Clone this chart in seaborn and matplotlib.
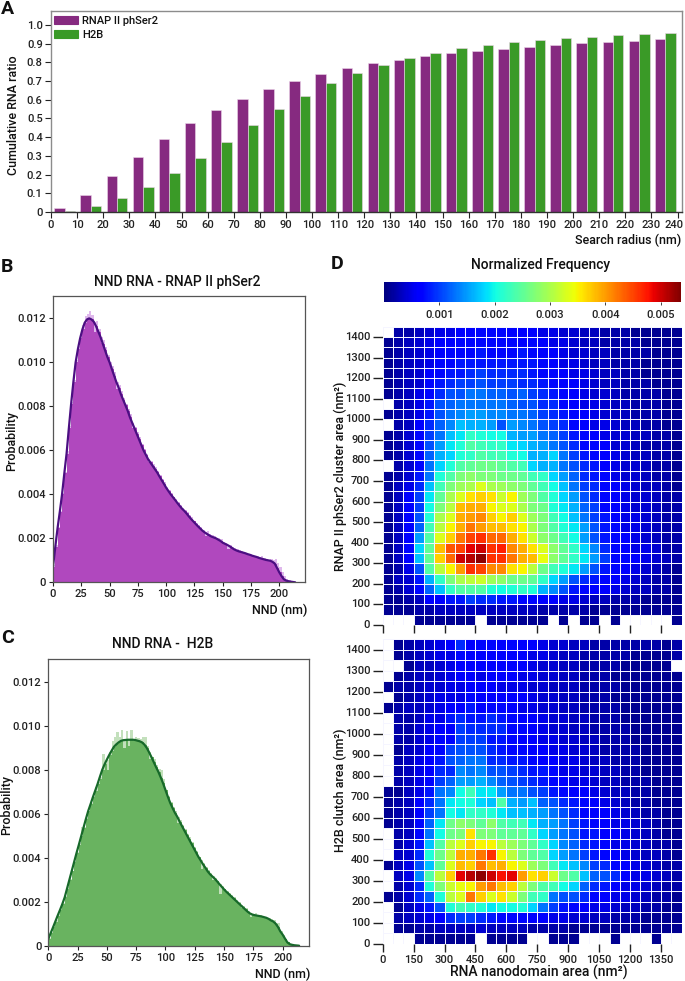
import numpy as np
import pandas as pd
import seaborn as sns
from matplotlib import pyplot as plt
from matplotlib.patches import Patch
from matplotlib.transforms import ScaledTranslation

W, H = 685, 981
nan = np.nan

radius_mid = [r + 0.3 for r in range(5, 240, 10)]
rnap_ratio = [.02, .09, .19, .295, .39, .475, .545, .605, .66, .70, .74, .77, .795, .815, .835, .85, .86, .87,
              .882, .892, .903, .908, .915, .922]
h2b_ratio = [.008, .033, .077, .135, .207, .29, .375, .463, .548, .622, .688, .742, .788, .823, .852, .875, .892,
             .908, .92, .93, .938, .944, .95, .955]

# NND distributions, 2 nm steps from 0 nm, in units of 1e-3
nnd_nm = list(range(0, 216, 2))
rnap_curve = [.7, 1.6, 2.45, 3.2, 4.0, 4.95, 5.85, 7.0, 8.1, 9.1, 10.0, 10.6, 11.1, 11.5, 11.8, 11.95, 12.0, 11.95,
              11.85, 11.65, 11.4, 11.15, 10.85, 10.55, 10.25, 10.0, 9.7, 9.4, 9.1, 8.85, 8.55, 8.3, 8.05, 7.8, 7.5,
              7.25, 7.0, 6.75, 6.5, 6.25, 6.0, 5.8, 5.6, 5.45, 5.3, 5.15, 5.0, 4.82, 4.65, 4.48, 4.3, 4.15, 4.0, 3.87,
              3.74, 3.6, 3.47, 3.35, 3.25, 3.13, 3.0, 2.88, 2.77, 2.66, 2.55, 2.45, 2.35, 2.27, 2.2, 2.14, 2.08, 2.04,
              2.0, 1.94, 1.88, 1.8, 1.75, 1.7, 1.64, 1.57, 1.5, 1.45, 1.41, 1.38, 1.35, 1.32, 1.28, 1.25, 1.21, 1.18,
              1.15, 1.11, 1.08, 1.05, 1.02, 1.0, .98, .93, .85, .65, .45, .28, .14, .08, .05, .03, .015, 0]
rnap_hist = [.8, 1.7, 2.5, 3.25, 4.05, 5.0, 5.95, 7.1, 8.2, 9.2, 10.1, 10.75, 11.3, 11.7, 12.1, 12.2, 12.35, 12.15,
             11.4, 11.9, 11.5, 10.9, 11.0, 10.7, 10.35, 9.8, 9.85, 9.55, 8.8, 8.95, 8.7, 8.4, 8.1, 7.9, 7.65, 7.0,
             7.05, 6.85, 6.6, 6.3, 6.05, 5.85, 5.45, 5.5, 5.4, 5.25, 5.05, 4.9, 4.7, 4.55, 4.35, 4.2, 4.05, 3.9, 3.8,
             3.65, 3.5, 3.4, 3.3, 3.2, 3.05, 2.95, 2.8, 2.7, 2.6, 2.5, 2.4, 2.1, 2.35, 2.2, 2.15, 2.1, 2.02, 2.0,
             1.95, 1.85, 1.8, 1.5, 1.7, 1.6, 1.55, 1.5, 1.45, 1.42, 1.38, 1.35, 1.3, 1.3, 1.22, 1.2, 1.18, 1.15, 1.18,
             1.1, 1.05, 1.02, 1.05, 1.0, 1.08, .9, .7, .48, .3, .15, .09, .05, .03, 0]
h2b_curve = [.3, .57, .83, 1.1, 1.37, 1.63, 1.9, 2.2, 2.6, 3.0, 3.4, 3.8, 4.2, 4.58, 4.97, 5.36, 5.75, 6.12, 6.43, 6.75,
             7.05, 7.35, 7.68, 8.0, 8.25, 8.47, 8.68, 8.87, 9.05, 9.16, 9.25, 9.32, 9.35, 9.36, 9.37, 9.37, 9.37, 9.36,
             9.33, 9.3, 9.25, 9.15, 9.0, 8.8, 8.58, 8.35, 8.12, 7.9, 7.65, 7.38, 7.08, 6.78, 6.5, 6.27, 6.05, 5.87, 5.65,
             5.45, 5.25, 5.05, 4.85, 4.65, 4.45, 4.25, 4.05, 3.88, 3.7, 3.55, 3.38, 3.25, 3.15, 3.05, 2.93, 2.8, 2.68,
             2.56, 2.45, 2.35, 2.25, 2.15, 2.05, 1.95, 1.85, 1.75, 1.65, 1.55, 1.47, 1.42, 1.39, 1.37, 1.35, 1.33,
             1.3, 1.27, 1.22, 1.15, 1.1, 1.0, .85, .65, .5, .32, .15, .07, .04, .02, .01, 0]
h2b_hist = [.35, .62, .88, 1.15, 1.42, 1.68, 1.95, 2.25, 2.65, 3.05, 3.4, 3.85, 4.25, 4.65, 5.4, 5.4, 5.8, 6.15, 6.5, 6.8,
            7.2, 7.45, 7.6, 8.7, 8.3, 8.0, 8.8, 9.3, 9.5, 9.7, 9.5, 9.8, 9.0, 9.75, 9.1, 9.8, 9.3, 9.5, 9.45, 9.4, 9.5,
            9.5, 9.1, 8.5, 8.6, 8.5, 8.2, 8.05, 8.0, 7.6, 7.1, 6.8, 6.55, 6.3, 6.15, 5.6, 5.7, 5.5, 5.3, 5.1, 4.95,
            4.7, 4.5, 4.3, 4.05, 3.5, 3.75, 3.6, 3.45, 3.3, 3.0, 3.1, 2.95, 2.35, 2.7, 2.6, 2.5, 2.4, 2.3, 2.2, 2.1,
            2.0, 1.7, 1.8, 1.7, 1.6, 1.3, 1.45, 1.5, 1.4, 1.38, 1.3, 1.32, 1.25, 1.25, 1.2, 1.15, 1.05, 1.05, .6, .45,
            .3, .15, .08, .05, .03, .01, 0]

# Heatmap cells in units of 1e-4, bottom row first (50 nm^2 cells)
rnap_rows = [
    [nan, nan, nan, 1, 1, 1, 1, 1, 1, nan, 1, 1, 1, 1, 1, 1, nan, 1, nan, 1, 1, nan, 1, nan, nan, nan, nan, nan, 1],
    [1, 1, 1, 2, 2, 3, 3, 3, 3, 3, 3, 3, 3, 3, 3, 2, 2, 2, 2, 2, 1, 1, 1, 1, 1, 1, 1, 1, 1],
    [1, 1, 2, 3, 6, 6, 8, 8, 10, 9, 9, 8, 8, 7, 7, 6, 6, 5, 5, 4, 3, 3, 2, 2, 2, 1, 1, 1, 1],
    [1, 2, 4, 7, 12, 17, 22, 24, 24, 24, 21, 20, 21, 22, 21, 16, 14, 11, 8, 7, 6, 6, 5, 4, 3, 3, 2, 2, 1],
    [1, 3, 4, 8, 16, 22, 27, 30, 31, 32, 29, 28, 26, 26, 25, 22, 18, 15, 11, 9, 8, 7, 6, 5, 4, 3, 2, 2, 1],
    [1, 2, 5, 11, 24, 31, 35, 40, 46, 45, 41, 41, 36, 35, 31, 26, 23, 21, 19, 15, 11, 8, 7, 6, 5, 4, 3, 2, 1],
    [1, 3, 6, 17, 25, 37, 43, 50, 51, 53, 46, 46, 42, 39, 38, 34, 28, 25, 22, 19, 15, 10, 7, 7, 6, 5, 4, 3, 2],
    [1, 3, 7, 18, 25, 38, 44, 45, 49, 50, 46, 47, 41, 39, 36, 33, 28, 25, 22, 18, 14, 9, 7, 6, 5, 5, 4, 2, 2],
    [1, 3, 6, 15, 24, 33, 37, 42, 45, 46, 43, 43, 39, 36, 32, 28, 26, 23, 20, 15, 11, 8, 7, 6, 5, 4, 3, 2, 2],
    [1, 3, 6, 12, 23, 31, 35, 39, 42, 40, 38, 38, 36, 35, 30, 27, 24, 21, 19, 15, 11, 8, 7, 5, 5, 4, 3, 2, 2],
    [1, 3, 6, 11, 21, 30, 33, 39, 40, 41, 37, 35, 37, 33, 29, 27, 23, 20, 17, 13, 10, 8, 6, 5, 5, 4, 3, 2, 2],
    [1, 3, 6, 10, 20, 27, 31, 38, 39, 39, 35, 33, 33, 30, 27, 26, 21, 19, 16, 12, 10, 7, 6, 5, 4, 4, 3, 2, 2],
    [1, 3, 6, 10, 19, 25, 30, 33, 36, 37, 36, 32, 35, 29, 27, 24, 21, 18, 15, 11, 9, 7, 6, 5, 4, 4, 3, 2, 2],
    [1, 3, 5, 9, 17, 23, 27, 29, 30, 33, 30, 29, 28, 27, 25, 23, 20, 17, 13, 10, 9, 7, 6, 5, 4, 3, 3, 2, 1],
    [1, 2, 4, 8, 13, 21, 24, 27, 28, 27, 27, 26, 26, 25, 23, 22, 18, 15, 12, 9, 8, 7, 5, 4, 4, 3, 2, 2, 1],
    [nan, 2, 4, 7, 13, 18, 21, 24, 25, 26, 26, 25, 24, 23, 18, 16, 16, 13, 11, 9, 8, 6, 5, 4, 4, 3, 2, 2, 1],
    [1, 2, 4, 7, 12, 16, 18, 21, 22, 24, 23, 23, 21, 20, 16, 16, 18, 13, 10, 8, 7, 6, 5, 4, 3, 3, 2, 2, 1],
    [1, 2, 4, 7, 11, 15, 19, 21, 24, 23, 22, 22, 19, 18, 16, 15, 13, 11, 9, 7, 7, 6, 4, 4, 3, 2, 2, 2, 1],
    [1, 2, 4, 7, 10, 13, 17, 19, 22, 21, 20, 20, 16, 15, 15, 13, 12, 10, 8, 7, 6, 5, 4, 4, 3, 3, 2, 2, 1],
    [nan, 2, 3, 6, 9, 12, 14, 17, 16, 16, 15, 11, 15, 14, 13, 11, 10, 9, 7, 6, 5, 5, 4, 3, 3, 2, 2, 1, 1],
    [1, 2, 3, 5, 8, 11, 13, 14, 15, 15, 14, 14, 13, 13, 12, 10, 9, 8, 7, 6, 5, 4, 3, 3, 2, 2, 2, 1, 1],
    [nan, 2, 3, 5, 8, 11, 12, 13, 13, 13, 13, 13, 12, 11, 11, 9, 9, 7, 6, 5, 5, 4, 3, 3, 2, 2, 2, 1, 1],
    [1, 2, 3, 5, 7, 9, 11, 11, 13, 13, 12, 12, 11, 12, 10, 9, 8, 7, 6, 5, 4, 4, 3, 2, 2, 2, 2, 1, 1],
    [1, 2, 3, 4, 7, 8, 9, 10, 10, 11, 10, 10, 10, 9, 9, 8, 7, 6, 6, 5, 4, 3, 3, 2, 2, 2, 1, 1, 1],
    [1, 2, 3, 4, 6, 7, 8, 8, 9, 10, 9, 9, 9, 9, 8, 7, 7, 6, 5, 5, 4, 3, 3, 2, 2, 1, 1, 1, 1],
    [1, 2, 3, 4, 5, 7, 7, 8, 8, 8, 8, 8, 8, 8, 8, 7, 6, 5, 5, 4, 3, 3, 2, 2, 2, 1, 1, 1, 1],
    [1, 2, 3, 4, 5, 6, 7, 7, 7, 8, 7, 7, 7, 8, 7, 6, 6, 5, 4, 4, 3, 3, 2, 2, 2, 2, 1, 1, 1],
    [1, 2, 3, 4, 5, 6, 6, 7, 7, 7, 7, 7, 7, 6, 7, 6, 5, 5, 4, 3, 3, 2, 2, 2, 2, 1, 1, 1, 1],
    [nan, 2, 2, 3, 4, 5, 5, 6, 6, 7, 7, 7, 6, 6, 6, 5, 5, 4, 4, 3, 3, 2, 2, 2, 1, 1, 1, 1, 1],
]
h2b_rows = [
    [nan, nan, nan, 1, 1, 1, 1, 1, 1, nan, 1, 1, 1, 1, nan, nan, 1, 1, 1, nan, nan, nan, 1, nan, nan, nan, 1, nan, nan],
    [nan, 1, 1, 2, 2, 3, 3, 3, 3, 4, 3, 3, 3, 3, 2, 2, 2, 2, 1, 1, 1, 1, 1, 1, 1, 1, 1, 1, 1],
    [nan, 2, 3, 4, 5, 6, 9, 10, 10, 9, 8, 7, 7, 7, 6, 6, 5, 5, 4, 4, 3, 3, 2, 2, 2, 1, 1, 1, 1],
    [nan, 1, 3, 5, 8, 11, 21, 23, 22, 21, 19, 20, 20, 21, 18, 13, 10, 8, 7, 6, 5, 5, 4, 3, 3, 2, 2, 1, 1],
    [1, 2, 4, 9, 12, 21, 31, 33, 42, 37, 33, 36, 32, 27, 23, 22, 13, 11, 11, 9, 7, 6, 5, 5, 4, 3, 2, 2, 1],
    [nan, 2, 4, 9, 21, 27, 32, 34, 35, 40, 42, 38, 37, 31, 27, 24, 23, 20, 18, 12, 9, 8, 6, 5, 5, 4, 3, 2, 2],
    [nan, 3, 5, 14, 24, 31, 37, 49, 51, 53, 50, 48, 49, 40, 36, 37, 32, 26, 24, 17, 12, 11, 9, 6, 5, 5, 4, 3, 2],
    [1, 3, 5, 11, 17, 25, 33, 38, 37, 42, 38, 39, 35, 33, 29, 27, 23, 19, 17, 14, 10, 9, 7, 6, 5, 4, 3, 2, 2],
    [nan, 3, 4, 9, 21, 26, 31, 39, 39, 42, 46, 35, 31, 27, 25, 24, 18, 15, 13, 10, 8, 7, 6, 5, 4, 3, 3, 2, 1],
    [nan, 2, 4, 8, 17, 24, 31, 33, 37, 35, 35, 31, 29, 27, 25, 22, 18, 14, 12, 9, 8, 7, 5, 5, 4, 3, 2, 2, 1],
    [nan, 2, 3, 7, 13, 20, 26, 27, 36, 27, 27, 25, 25, 25, 22, 18, 15, 13, 11, 8, 8, 6, 6, 5, 4, 3, 2, 1, 1],
    [1, 2, 3, 7, 12, 19, 26, 28, 27, 25, 28, 24, 23, 23, 19, 16, 15, 13, 10, 8, 7, 6, 5, 5, 4, 3, 2, 1, 1],
    [1, 2, 3, 6, 10, 13, 20, 19, 22, 22, 21, 19, 17, 17, 16, 15, 13, 11, 9, 7, 6, 6, 5, 4, 3, 2, 2, 1, 1],
    [1, 2, 3, 6, 9, 13, 19, 20, 21, 18, 17, 24, 16, 15, 17, 12, 11, 9, 8, 7, 6, 5, 4, 3, 2, 2, 1, 1, 1],
    [1, 1, 3, 5, 8, 13, 14, 20, 23, 19, 19, 15, 13, 13, 11, 10, 8, 7, 6, 6, 5, 4, 3, 3, 2, 2, 1, 1, 1],
    [nan, 2, 3, 5, 7, 10, 12, 15, 15, 16, 14, 12, 11, 10, 9, 8, 7, 6, 5, 5, 4, 3, 3, 2, 2, 2, 1, 1, 1],
    [nan, 2, 3, 5, 6, 9, 9, 14, 13, 14, 11, 11, 10, 9, 8, 8, 7, 5, 5, 4, 4, 3, 3, 2, 2, 1, 1, 1, 1],
    [nan, 2, 3, 5, 6, 8, 11, 12, 13, 13, 9, 9, 8, 8, 7, 6, 6, 5, 5, 4, 3, 3, 2, 2, 2, 1, 1, 1, 1],
    [nan, 1, 3, 4, 6, 7, 10, 11, 11, 11, 9, 8, 7, 7, 6, 6, 5, 5, 4, 4, 3, 2, 2, 2, 2, 1, 1, 1, 1],
    [nan, 2, 2, 4, 5, 7, 7, 10, 10, 10, 8, 8, 7, 6, 6, 5, 5, 4, 4, 3, 3, 2, 2, 2, 1, 1, 1, 1, 1],
    [nan, 2, 2, 4, 5, 6, 6, 10, 9, 9, 9, 9, 7, 7, 6, 5, 4, 4, 3, 3, 2, 2, 2, 2, 1, 1, 1, 1, 1],
    [nan, 2, 2, 3, 5, 5, 8, 9, 8, 8, 9, 8, 7, 6, 6, 5, 4, 4, 3, 3, 2, 2, 2, 1, 1, 1, 1, 1, 1],
    [1, 2, 3, 3, 4, 5, 6, 6, 8, 6, 7, 7, 6, 5, 5, 4, 4, 3, 3, 2, 2, 2, 2, 1, 1, 1, 1, 1, 1],
    [nan, 1, 2, 3, 4, 5, 5, 5, 7, 6, 6, 6, 6, 6, 5, 4, 4, 3, 3, 2, 2, 2, 1, 1, 1, 1, 1, 1, 1],
    [1, 2, 2, 3, 4, 4, 5, 5, 6, 6, 6, 5, 5, 5, 4, 4, 3, 3, 3, 2, 2, 2, 2, 1, 1, 1, 1, 1, 1],
    [nan, 1, 2, 3, 3, 4, 5, 6, 6, 5, 6, 6, 6, 5, 5, 4, 4, 3, 3, 2, 2, 2, 1, 1, 1, 1, 1, 1, 1],
    [nan, nan, 1, 3, 3, 4, 5, 6, 6, 6, 6, 6, 6, 6, 5, 4, 4, 3, 3, 2, 2, 2, 2, 1, 1, 1, 1, 1, nan],
    [nan, 1, 2, 3, 4, 5, 5, 7, 6, 6, 6, 6, 6, 6, 5, 5, 4, 3, 3, 2, 2, 2, 2, 2, 1, 1, 1, 1, 2],
    [nan, 1, 2, 3, 4, 5, 6, 9, 6, 7, 7, 6, 7, 6, 6, 5, 4, 4, 3, 3, 2, 2, 2, 2, 2, 2, 2, 1, 2],
]

heat_ticks_x = [0, 150, 300, 450, 600, 750, 900, 1050, 1200, 1350]
heat_ticks_y = list(range(0, 1500, 100))
heat_x_labels = list(range(0, 1450, 50))
heat_y_labels = list(range(0, 1450, 50))
cbar_ticks = [0.001, 0.002, 0.003, 0.004, 0.005]

PURPLE = "#862a80"
GREEN = "#3a9a27"
EDGE = "#8c8c8c"


def box(fig, left, top, right, bottom):
    return fig.add_axes([left / W, 1 - bottom / H, (right - left) / W, (bottom - top) / H])


def label_at(axis, px, py):
    axis.set_label_coords(px / W, 1 - py / H, transform=plt.gcf().transFigure)


def draw_hist(ax, curve, hist, solid, pale, line):
    df = pd.DataFrame({"nnd": nnd_nm, "curve": curve, "hist": hist})
    df["curve"] /= 1000
    df["hist"] /= 1000
    edges = list(nnd_nm) + [nnd_nm[-1] + 2]
    kw = dict(x="nnd", bins=edges, element="bars", linewidth=0, alpha=1, ax=ax)
    sns.histplot(df.assign(h=df[["curve", "hist"]].max(axis=1)), weights="h", color=pale, **kw)
    sns.histplot(df.assign(h=df[["curve", "hist"]].min(axis=1)), weights="h", color=solid, **kw)
    sns.lineplot(df, x="nnd", y="curve", color=line, linewidth=1.6, ax=ax)
    ax.set_ylim(0, 0.01303)
    ax.set_xlim(0, 222.7)
    ax.set_xticks(range(0, 225, 25))
    ax.set_yticks([0, .002, .004, .006, .008, .01, .012])
    ax.set_yticklabels(["0", "0.002", "0.004", "0.006", "0.008", "0.010", "0.012"])
    ax.tick_params(length=3, width=0.8, pad=2)
    for s in ax.spines.values():
        s.set_color("#555555")
        s.set_linewidth(0.9)


def draw_heat(ax, rows, cax=None):
    df = pd.DataFrame(rows, index=heat_y_labels, columns=heat_x_labels) * 1e-4
    sns.heatmap(df, cmap="jet", vmin=0.000006, vmax=0.00537, linewidths=0.7, linecolor="#f5f5ff",
                cbar=cax is not None, cbar_ax=cax,
                cbar_kws={"orientation": "horizontal", "ticks": cbar_ticks, "format": "%.3f"}, ax=ax)
    ax.invert_yaxis()
    ax.set_yticks(np.array(heat_ticks_y) / 50)
    ax.set_yticklabels(heat_ticks_y, rotation=0)
    ax.set_xticks(np.array(heat_ticks_x) / 50)
    ax.set_xlabel("")
    ax.set_ylabel("")
    ax.tick_params(axis="y", length=7, width=1, pad=2)
    ax.tick_params(axis="x", length=6, width=1, pad=2)


def main():
    sns.set_theme(style="ticks", context="paper")
    plt.rcParams.update({
        "font.family": ["Roboto", "Liberation Sans", "DejaVu Sans"],
        "font.weight": 500,
        "font.size": 8,
        "xtick.labelsize": 8,
        "ytick.labelsize": 8,
        "axes.labelsize": 9,
        "axes.labelweight": 500,
        "text.color": "#111111",
        "axes.labelcolor": "#111111",
        "xtick.color": "#222222",
        "ytick.color": "#222222",
    })
    fig = plt.figure(figsize=(W / 100, H / 100), dpi=100)

    # A: cumulative ratio
    ax = box(fig, 51, 10.5, 681.7, 212)
    bars = pd.DataFrame({
        "radius": radius_mid * 2,
        "ratio": rnap_ratio + h2b_ratio,
        "target": ["RNAP II phSer2"] * 24 + ["H2B"] * 24,
    })
    sns.barplot(bars, x="radius", y="ratio", hue="target", native_scale=True, width=0.8, saturation=1,
                palette=[PURPLE, GREEN], edgecolor="#ecd6ea", linewidth=0.4, legend=False, ax=ax)
    ax.set_xlim(0, 241.6)
    ax.set_ylim(0, 1.077)
    ax.set_xticks(range(0, 250, 10))
    ax.set_yticks(np.arange(0, 1.05, 0.1))
    ax.set_yticklabels(["0", "0.1", "0.2", "0.3", "0.4", "0.5", "0.6", "0.7", "0.8", "0.9", "1.0"])
    ax.tick_params(length=4, width=0.8, pad=2)
    # keep the last tick label inside the figure
    last = ax.get_xticklabels()[-1]
    last.set_transform(last.get_transform() + ScaledTranslation(-0.04, 0, fig.dpi_scale_trans))
    for s in ["top", "right", "left"]:
        ax.spines[s].set_color(EDGE)
    ax.spines["bottom"].set_color("#333333")
    ax.set_xlabel("Search radius (nm)", ha="right")
    label_at(ax.xaxis, 681, 234)
    ax.set_ylabel("Cumulative RNA ratio")
    label_at(ax.yaxis, 20, 115)
    ax.legend(handles=[Patch(color=PURPLE, label="RNAP II phSer2"), Patch(color=GREEN, label="H2B")],
              loc="upper left", bbox_to_anchor=(0.002, 0.985), frameon=False, fontsize=8, handlelength=2.1,
              handleheight=0.8, labelspacing=0.35, handletextpad=0.4, borderpad=0.2, borderaxespad=0)

    # B and C: NND histograms
    ax = box(fig, 53, 295.7, 305, 582.3)
    draw_hist(ax, rnap_curve, rnap_hist, "#b048be", "#dfb8ec", "#4b0f82")
    ax.set_xlabel("NND (nm)", ha="right")
    label_at(ax.xaxis, 307, 604)
    ax.set_ylabel("Probability")
    label_at(ax.yaxis, 18, 441)
    fig.text(177 / W, 1 - 282 / H, "NND RNA - RNAP II phSer2", ha="center", va="center", fontsize=10)

    ax = box(fig, 48.3, 659.3, 309.3, 945.7)
    draw_hist(ax, h2b_curve, h2b_hist, "#69b360", "#c3e0bc", "#17692a")
    ax.set_xlabel("NND (nm)", ha="right")
    label_at(ax.xaxis, 310, 968)
    ax.set_ylabel("Probability")
    label_at(ax.yaxis, 13, 805)
    fig.text(163 / W, 1 - 644 / H, "NND RNA -  H2B", ha="center", va="center", fontsize=10)

    # D: heatmaps with shared colour bar
    cax = box(fig, 384.3, 282.3, 681.3, 301.7)
    ax = box(fig, 382.7, 326.7, 681.7, 625)
    draw_heat(ax, rnap_rows, cax=cax)
    ax.set_xticklabels([])
    ax.set_ylabel("RNAP II phSer2 cluster area (nm²)")
    label_at(ax.yaxis, 347, 476)
    cax.tick_params(length=2, width=0.6, pad=4, labelsize=8)
    fig.text(540.7 / W, 1 - 265 / H, "Normalized Frequency", ha="center", va="center", fontsize=10)

    ax = box(fig, 382.7, 639, 681.7, 944)
    draw_heat(ax, h2b_rows)
    ax.set_xticklabels(heat_ticks_x, rotation=0)
    ax.set_ylabel("H2B clutch area (nm²)")
    label_at(ax.yaxis, 347, 790)
    ax.set_xlabel("RNA nanodomain area (nm²)", fontsize=10)
    label_at(ax.xaxis, 539, 965)

    for letter, px, py in [("A", 1, 14), ("B", 1, 272), ("C", 1, 643), ("D", 331, 269)]:
        fig.text(px / W, 1 - py / H, letter, fontsize=14, fontweight="bold", va="baseline")

    fig.savefig("out.png", dpi=100)


if __name__ == "__main__":
    main()
